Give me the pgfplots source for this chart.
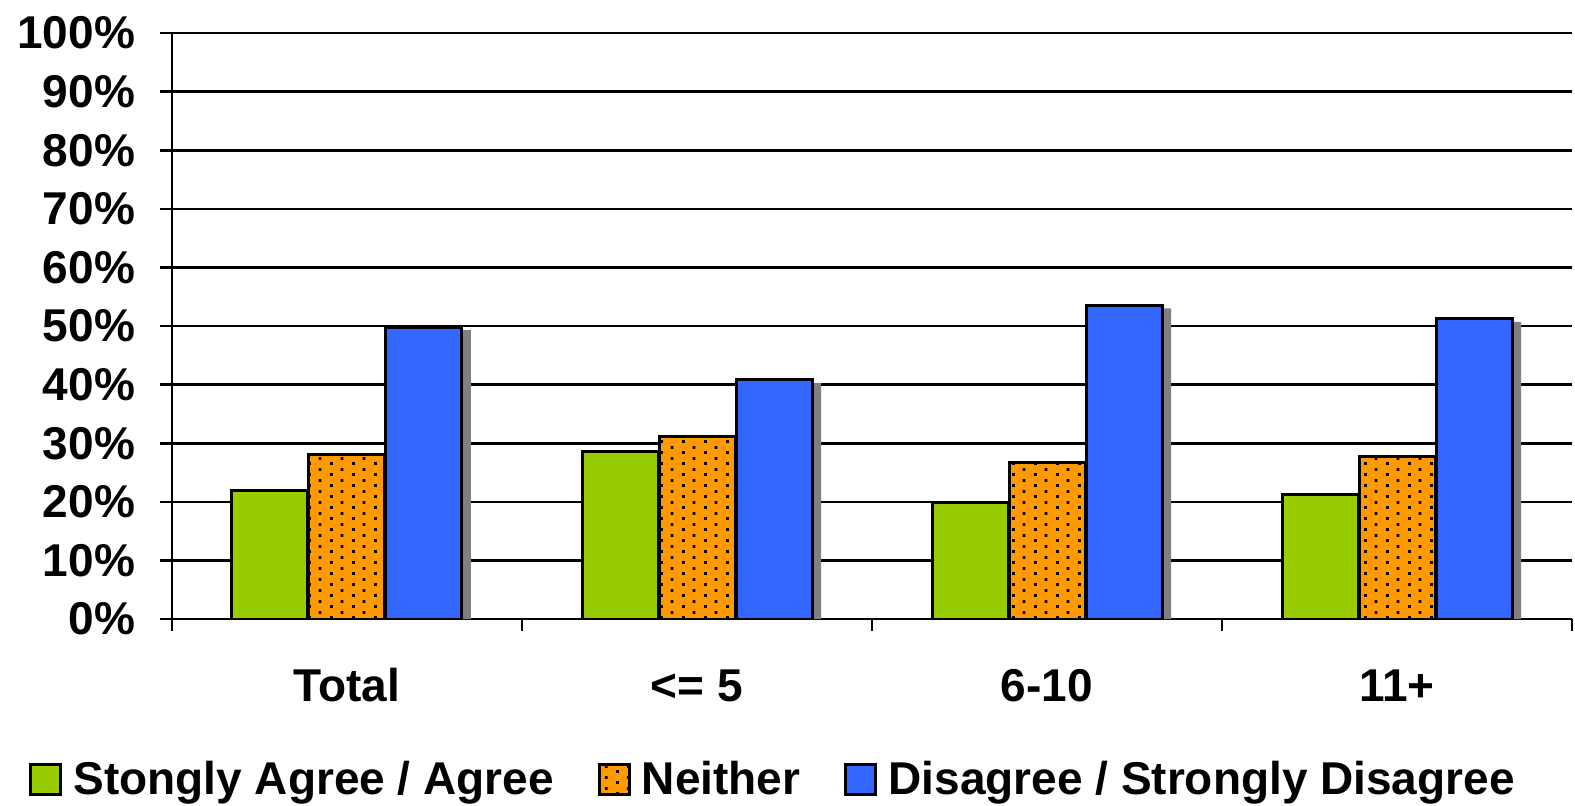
\documentclass[border=0pt]{standalone}
\usepackage{pgfplots}
\usepackage{pgfplotstable}
\pgfplotsset{compat=1.18}
\usepackage{fontspec}
\setmainfont{Liberation Sans}
\usetikzlibrary{patterns}
\definecolor{cgreen}{HTML}{99CC00}
\definecolor{corange}{HTML}{FF9900}
\definecolor{cblue}{HTML}{3366FF}
\definecolor{cshadow}{HTML}{808080}
\pgfdeclarepatternformonly{bardots}{\pgfpointorigin}{\pgfpoint{11pt}{5.5pt}}{\pgfpoint{11pt}{5.5pt}}{%
  \pgfpathrectangle{\pgfpoint{0pt}{0pt}}{\pgfpoint{1.5pt}{1.5pt}}%
  \pgfpathrectangle{\pgfpoint{5.5pt}{2.75pt}}{\pgfpoint{1.5pt}{1.5pt}}%
  \pgfusepath{fill}}
\newcommand\chartfont{\fontsize{23}{27}\selectfont\bfseries}
\pgfplotstableread{
x agree neither disagree shadow
0 22.0 28.0 49.8 49.3
1 28.5 31.2 40.8 40.3
2 19.9 26.7 53.5 53.0
3 21.3 27.7 51.2 50.7
}\datatable
\begin{document}
\begin{tikzpicture}
\useasboundingbox (-86pt,-93pt) rectangle (701.5pt,309.5pt);
\begin{axis}[
  scale only axis,
  width=700pt, height=293pt,
  xmin=-0.5, xmax=3.5, ymin=0, ymax=100,
  enlargelimits=false,
  axis x line=bottom, axis y line=left,
  axis line style={-, line width=1.3pt, black},
  ybar=0.5pt, bar width=38pt,
  ymajorgrids,
  grid style={line width=1.3pt, black},
  ytick={0,10,...,100},
  yticklabels={0\%,10\%,20\%,30\%,40\%,50\%,60\%,70\%,80\%,90\%,100\%},
  xtick={-0.5,0.5,1.5,2.5,3.5},
  xticklabels={},
  tick align=outside,
  major tick length=6pt,
  x tick style={line width=1.3pt, black},
  y tick style={line width=1.3pt, black},
  extra x ticks={0,1,2,3},
  extra x tick labels={Total,{<= 5},6-10,11+},
  extra x tick style={grid=none, major tick length=0pt, tick style={draw=none}, xticklabel style={anchor=base, yshift=-41pt}},
  tick label style={font=\chartfont},
  yticklabel style={anchor=east, xshift=-9pt},
  legend columns=3,
  legend style={at={(axis description cs:0,0)}, anchor=west, xshift=-71.5pt, yshift=-80pt,
    draw=none, fill=none, font=\chartfont, inner sep=0pt,
    /tikz/every even column/.append style={column sep=20pt},
    /tikz/every odd column/.append style={column sep=3.5pt}},
  every axis plot post/.append style={legend image code/.code={\draw[#1, line width=1.5pt] (0pt,-7.5pt) rectangle (15pt,7.5pt);}},
]
\addplot[forget plot, fill=cshadow, draw=none, bar shift=43pt] table[x=x, y=shadow] {\datatable};
\addplot[fill=cgreen, draw=black, line width=1.5pt, bar shift=-38.5pt] table[x=x, y=agree] {\datatable};
\addplot[fill=corange, draw=black, line width=1.5pt, bar shift=0pt, postaction={pattern=bardots, pattern color=black}] table[x=x, y=neither] {\datatable};
\addplot[fill=cblue, draw=black, line width=1.5pt, bar shift=38.5pt] table[x=x, y=disagree] {\datatable};
\legend{Stongly Agree / Agree, Neither, Disagree / Strongly Disagree}
\end{axis}
\end{tikzpicture}
\end{document}
